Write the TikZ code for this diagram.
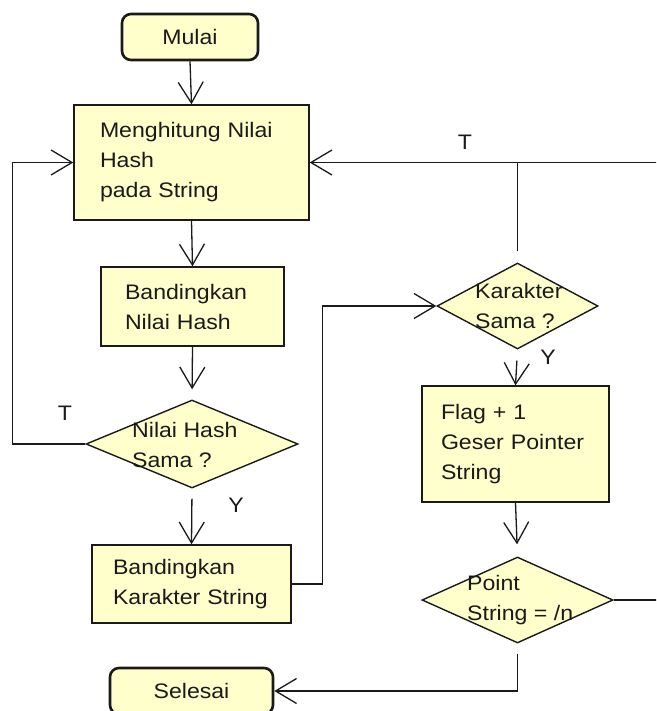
\documentclass[tikz,border=0pt]{standalone}
\usepackage{fontspec}
\setmainfont{Liberation Sans}[FakeStretch=1.1]
\usetikzlibrary{arrows.meta,shapes.geometric}
\definecolor{boxfill}{HTML}{FFFFCC}
\definecolor{ink}{HTML}{1A1A1A}
\tikzset{
  every node/.style={font=\fontsize{21}{30}\selectfont, text=ink},
  term/.style={draw=ink, fill=boxfill, line width=2.6pt, rounded corners=9pt, minimum width=#1, minimum height=46pt, inner sep=0pt},
  proc/.style={draw=ink, fill=boxfill, line width=1.4pt, rectangle, align=left},
  dec/.style={draw=ink, fill=boxfill, line width=1.4pt, diamond, inner sep=0pt},
  dtext/.style={anchor=west, inner sep=0pt, align=left},
  lbl/.style={inner sep=0pt},
  arr/.style={draw=ink, line width=1.3pt, -{Straight Barb[length=21pt,width=25pt]}},
  ln/.style={draw=ink, line width=1.3pt},
}
\begin{document}
\begin{tikzpicture}[x=1pt,y=-1pt]
\useasboundingbox (0,0) rectangle (656,711);
\clip (0,0) rectangle (656,711);
\fill[white] (0,0) rectangle (656,711);

% nodes
\node[term=136pt] (mulai) at (190,37) {Mulai};
\node[proc, minimum width=235pt, minimum height=115pt, text width=183pt, inner xsep=26pt] (b1) at (191.5,162.5) {Menghitung~Nilai\\Hash\\pada~String};
\node[proc, minimum width=183pt, minimum height=79pt, text width=135pt, inner xsep=24pt] (b2) at (192.5,306.5) {Bandingkan\\Nilai~Hash};
\node[dec, minimum width=212pt, minimum height=88pt] (d1) at (192,444) {};
\node[dtext] (d1t) at (132,445) {Nilai~Hash\\Sama~?};
\node[proc, minimum width=199pt, minimum height=78pt, text width=157pt, inner xsep=21pt] (b3) at (191.5,584) {Bandingkan\\Karakter~String};
\node[dec, minimum width=161pt, minimum height=86pt] (d2) at (517.5,306) {};
\node[dtext] (d2t) at (475,306) {Karakter\\Sama~?};
\node[proc, minimum width=187pt, minimum height=116pt, text width=149pt, inner xsep=19pt] (b4) at (515.5,444) {Flag~+~1\\Geser~Pointer\\String};
\node[dec, minimum width=191pt, minimum height=86pt] (d3) at (517.5,600) {};
\node[dtext] (d3t) at (467,600) {Point\\String~=~/n};
\node[term=163pt] (sel) at (191.5,691) {Selesai};

% labels
\node[lbl] (lt1) at (65,413) {T};
\node[lbl] (ly1) at (236,505) {Y};
\node[lbl] (lt2) at (465,142) {T};
\node[lbl] (ly2) at (548,357) {Y};

% connectors
\draw[arr] (mulai.south) -- (b1.north);
\draw[arr] (b1.south) -- (b2.north);
\draw[arr, shorten >=10pt] (b2.south) -- (d1.north);
\draw[arr] (d1.west) -- ++(-73,0) |- (b1.west);
\draw[arr, shorten <=10pt] (d1.south) -- (b3.north);
\draw[arr] (b3.east) -- ++(31,0) |- (d2.west);
\draw[arr, shorten <=11pt] (d2.south) -- (b4.north);
\draw[ln, shorten <=11pt] (d2.north) -- (d2.north |- b1.east);
\draw[arr, shorten >=12pt] (b4.south) -- (d3.north);
\draw[arr] (d3.east) -- ++(50,0) |- (b1.east);
\draw[arr, shorten <=10pt] (d3.south) |- (sel.east);
\end{tikzpicture}
\end{document}
